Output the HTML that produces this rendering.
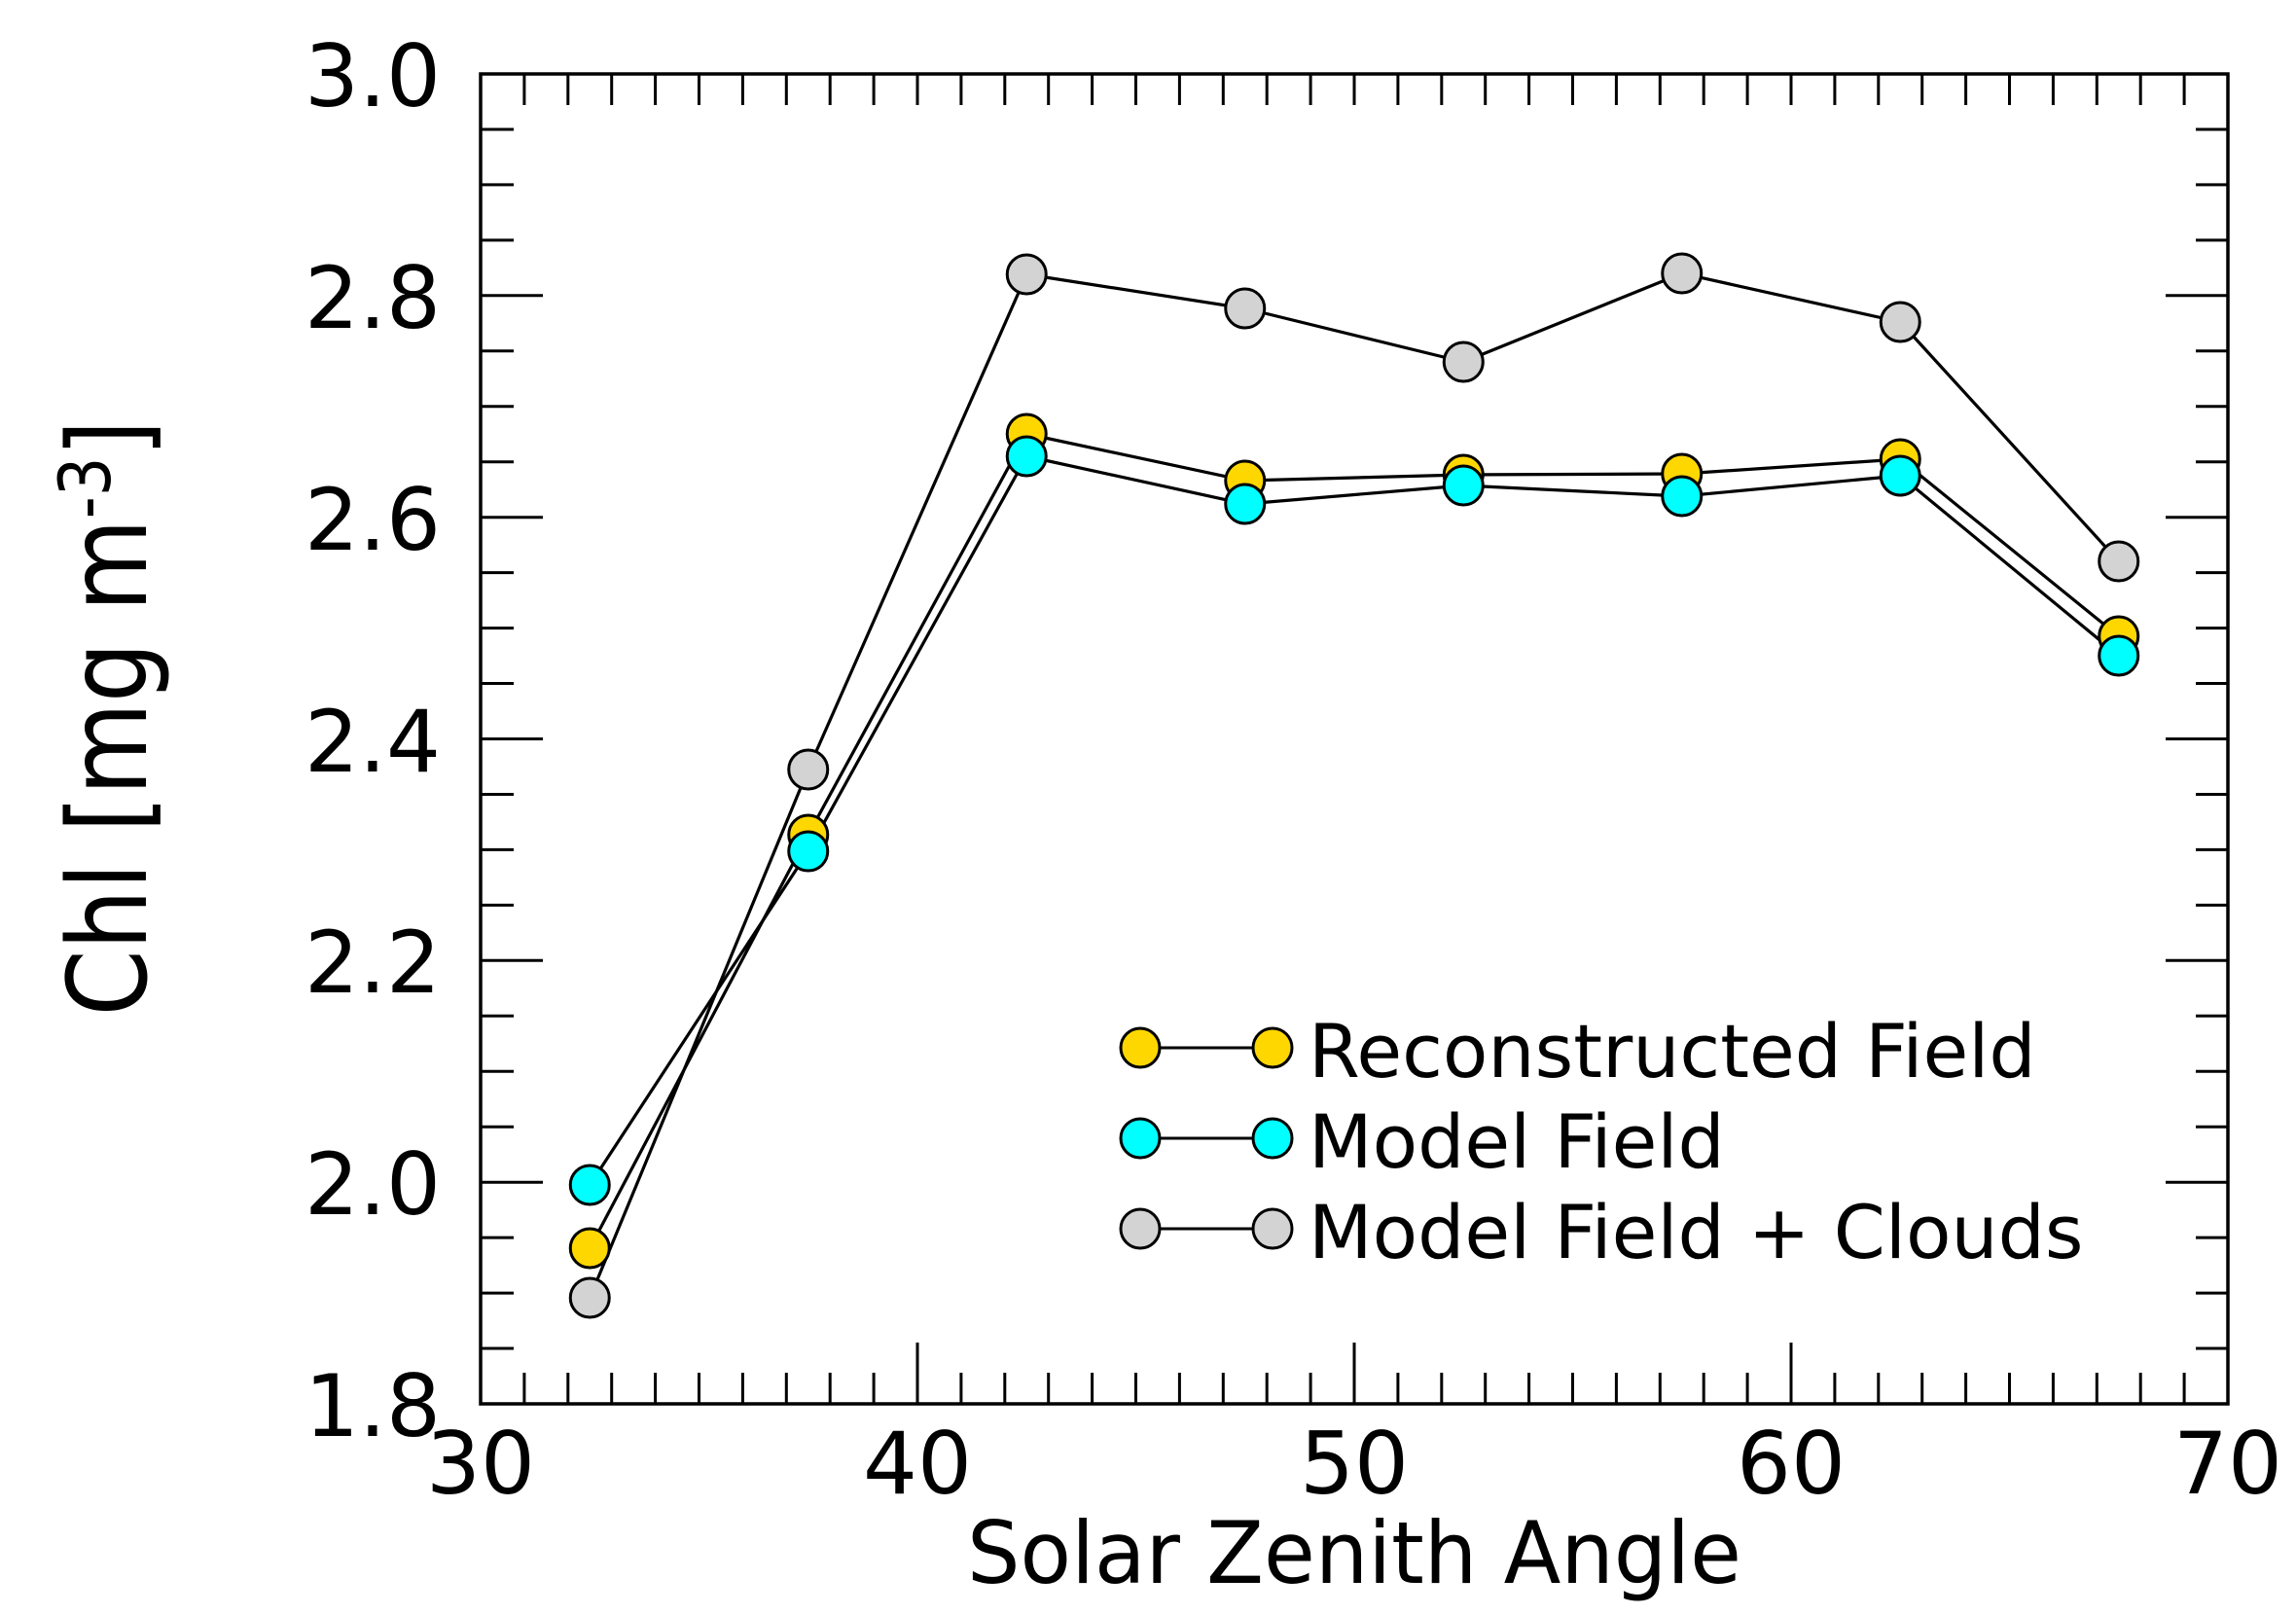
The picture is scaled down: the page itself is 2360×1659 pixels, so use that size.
<!DOCTYPE html>
<html><head><meta charset="utf-8"><style>
html,body{margin:0;padding:0;background:#fff;}
svg{display:block;}
text{font-family:"DejaVu Sans","Liberation Sans",sans-serif;fill:#000;}
</style></head><body>
<svg width="2360" height="1659" viewBox="0 0 2360 1659" xmlns="http://www.w3.org/2000/svg">
<rect width="2360" height="1659" fill="#fff"/>
<!-- ticks -->
<g stroke="#000" stroke-width="3" fill="none">
<path d="M538.9 1443v-32M583.8 1443v-32M628.7 1443v-32M673.6 1443v-32M718.5 1443v-32M763.4 1443v-32M808.3 1443v-32M853.2 1443v-32M898.1 1443v-32M943 1443v-63M987.9 1443v-32M1032.8 1443v-32M1077.7 1443v-32M1122.6 1443v-32M1167.5 1443v-32M1212.4 1443v-32M1257.3 1443v-32M1302.2 1443v-32M1347.1 1443v-32M1392 1443v-63M1436.9 1443v-32M1481.8 1443v-32M1526.7 1443v-32M1571.6 1443v-32M1616.5 1443v-32M1661.4 1443v-32M1706.3 1443v-32M1751.2 1443v-32M1796.1 1443v-32M1841 1443v-63M1885.9 1443v-32M1930.8 1443v-32M1975.7 1443v-32M2020.6 1443v-32M2065.5 1443v-32M2110.4 1443v-32M2155.3 1443v-32M2200.2 1443v-32M2245.1 1443v-32"/>
<path d="M538.9 76v32M583.8 76v32M628.7 76v32M673.6 76v32M718.5 76v32M763.4 76v32M808.3 76v32M853.2 76v32M898.1 76v32M943 76v32M987.9 76v32M1032.8 76v32M1077.7 76v32M1122.6 76v32M1167.5 76v32M1212.4 76v32M1257.3 76v32M1302.2 76v32M1347.1 76v32M1392 76v32M1436.9 76v32M1481.8 76v32M1526.7 76v32M1571.6 76v32M1616.5 76v32M1661.4 76v32M1706.3 76v32M1751.2 76v32M1796.1 76v32M1841 76v32M1885.9 76v32M1930.8 76v32M1975.7 76v32M2020.6 76v32M2065.5 76v32M2110.4 76v32M2155.3 76v32M2200.2 76v32M2245.1 76v32"/>
<path d="M494 133h34M494 189.9h34M494 246.9h34M494 303.8h64M494 360.8h34M494 417.7h34M494 474.7h34M494 531.7h64M494 588.6h34M494 645.6h34M494 702.5h34M494 759.5h64M494 816.5h34M494 873.4h34M494 930.4h34M494 987.3h64M494 1044.3h34M494 1101.3h34M494 1158.2h34M494 1215.2h64M494 1272.1h34M494 1329.1h34M494 1386h34"/>
<path d="M2290 133h-33M2290 189.9h-33M2290 246.9h-33M2290 303.8h-64M2290 360.8h-33M2290 417.7h-33M2290 474.7h-33M2290 531.7h-64M2290 588.6h-33M2290 645.6h-33M2290 702.5h-33M2290 759.5h-64M2290 816.5h-33M2290 873.4h-33M2290 930.4h-33M2290 987.3h-64M2290 1044.3h-33M2290 1101.3h-33M2290 1158.2h-33M2290 1215.2h-64M2290 1272.1h-33M2290 1329.1h-33M2290 1386h-33"/>
</g>
<rect x="494" y="76" width="1796" height="1367" fill="none" stroke="#000" stroke-width="3.5"/>

<!-- y tick labels -->
<g font-size="88" text-anchor="end">
<text x="453" y="109">3.0</text>
<text x="453" y="337">2.8</text>
<text x="453" y="565">2.6</text>
<text x="453" y="793">2.4</text>
<text x="453" y="1020">2.2</text>
<text x="453" y="1248">2.0</text>
<text x="453" y="1476">1.8</text>
</g>
<!-- x tick labels -->
<g font-size="88" text-anchor="middle">
<text x="494" y="1535">30</text>
<text x="943" y="1535">40</text>
<text x="1392" y="1535">50</text>
<text x="1841" y="1535">60</text>
<text x="2290" y="1535">70</text>
</g>
<!-- axis titles -->
<text x="1392" y="1627" font-size="88" text-anchor="middle" textLength="796" lengthAdjust="spacingAndGlyphs">Solar Zenith Angle</text>
<text transform="translate(150,738) rotate(-90) scale(0.875,1)" font-size="112" text-anchor="middle">Chl [mg m<tspan font-size="73" dy="-37">-3</tspan><tspan dy="37">]</tspan></text>

<!-- series lines -->
<g fill="none" stroke="#000" stroke-width="3.2" stroke-linejoin="round">
<polyline points="606.25,1334 830.75,791 1055.25,282 1279.75,317 1504.25,372 1728.75,281 1953.25,331 2177.75,577"/>
<polyline points="606.25,1283 830.75,858 1055.25,446 1279.75,494 1504.25,488 1728.75,487 1953.25,472 2177.75,654"/>
<polyline points="606.25,1218 830.75,875 1055.25,469 1279.75,518 1504.25,499 1728.75,510 1953.25,489 2177.75,674"/>
</g>
<!-- markers -->
<g stroke="#000" stroke-width="3">
<g fill="#d3d3d3">
<circle cx="606.25" cy="1334" r="20"/><circle cx="830.75" cy="791" r="20"/><circle cx="1055.25" cy="282" r="20"/><circle cx="1279.75" cy="317" r="20"/><circle cx="1504.25" cy="372" r="20"/><circle cx="1728.75" cy="281" r="20"/><circle cx="1953.25" cy="331" r="20"/><circle cx="2177.75" cy="577" r="20"/>
</g>
<g fill="#ffd700">
<circle cx="606.25" cy="1283" r="20"/><circle cx="830.75" cy="858" r="20"/><circle cx="1055.25" cy="446" r="20"/><circle cx="1279.75" cy="494" r="20"/><circle cx="1504.25" cy="488" r="20"/><circle cx="1728.75" cy="487" r="20"/><circle cx="1953.25" cy="472" r="20"/><circle cx="2177.75" cy="654" r="20"/>
</g>
<g fill="#00ffff">
<circle cx="606.25" cy="1218" r="20"/><circle cx="830.75" cy="875" r="20"/><circle cx="1055.25" cy="469" r="20"/><circle cx="1279.75" cy="518" r="20"/><circle cx="1504.25" cy="499" r="20"/><circle cx="1728.75" cy="510" r="20"/><circle cx="1953.25" cy="489" r="20"/><circle cx="2177.75" cy="674" r="20"/>
</g>
</g>

<!-- legend -->
<g stroke="#000" stroke-width="3">
<line x1="1172" y1="1077" x2="1308" y2="1077"/>
<line x1="1172" y1="1170" x2="1308" y2="1170"/>
<line x1="1172" y1="1263" x2="1308" y2="1263"/>
<circle cx="1172" cy="1077" r="20" fill="#ffd700"/><circle cx="1308" cy="1077" r="20" fill="#ffd700"/>
<circle cx="1172" cy="1170" r="20" fill="#00ffff"/><circle cx="1308" cy="1170" r="20" fill="#00ffff"/>
<circle cx="1172" cy="1263" r="20" fill="#d3d3d3"/><circle cx="1308" cy="1263" r="20" fill="#d3d3d3"/>
</g>
<g font-size="76">
<text x="1345" y="1107">Reconstructed Field</text>
<text x="1345" y="1200">Model Field</text>
<text x="1345" y="1293">Model Field + Clouds</text>
</g>
</svg>
</body></html>
